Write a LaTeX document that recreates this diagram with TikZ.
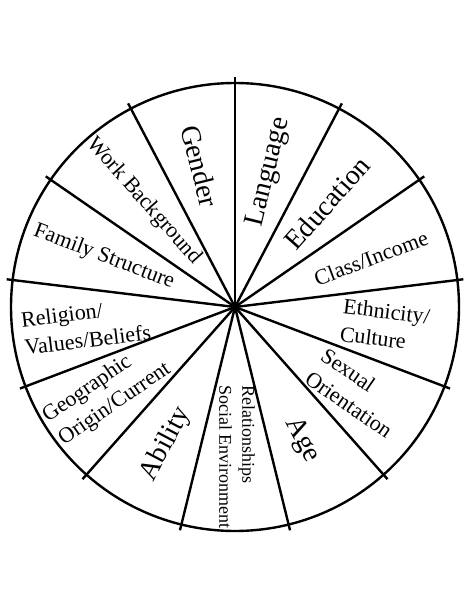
\documentclass[tikz,border=0pt]{standalone}
\usepackage{fontspec}
\setmainfont{Liberation Serif}
\begin{document}
\begin{tikzpicture}[x=1pt,y=-1pt,
  spoke/.style={line width=2.4pt},
  rim/.style={line width=2.4pt},
  big/.style={font=\fontsize{28}{34}\selectfont, inner sep=0pt},
  lab/.style={font=\fontsize{22}{28}\selectfont, inner sep=0pt, align=left},
  sml/.style={font=\fontsize{18}{23}\selectfont, inner sep=0pt, align=left}]
\useasboundingbox (0,0) rectangle (474,613);
\fill[white] (0,0) rectangle (474,613);
\coordinate (c) at (235,307);
\draw[rim] (c) circle[radius=224pt];
\foreach \i in {0,...,12} {
  \path (c) ++({90+\i*360/13}:230pt) coordinate (e\i);
  \draw[spoke] (c) -- (e\i);
}
\node[big, rotate=-76.15] (gender) at (200,166) {Gender};
\node[big, rotate=76.15] (language) at (269,172) {Language};
\node[big, rotate=48.46] (education) at (327,203) {Education};
\node[lab, rotate=20.77] (class) at (371,258) {Class/Income};
\node[lab, rotate=-6.92] (ethnic) at (385,325) {Ethnicity/\\Culture};
\node[lab, rotate=-34.6] (sexual) at (357,393) {Sexual\\Orientation};
\node[big, rotate=-62.3] (age) at (302,440) {Age};
\node[sml, rotate=-90] (rel) at (237,457) {Relationships\\Social Environment};
\node[big, rotate=62.3] (ability) at (166,444) {Ability};
\node[lab, rotate=34.6] (geo) at (107,393) {Geographic\\Origin/Current};
\node[lab, rotate=6.92] (religion) at (86,326) {Religion/\\Values/Beliefs};
\node[lab, rotate=-20.77] (family) at (104,257) {Family Structure};
\node[lab, rotate=-48.46] (work) at (144,201) {Work Background};
\end{tikzpicture}
\end{document}
